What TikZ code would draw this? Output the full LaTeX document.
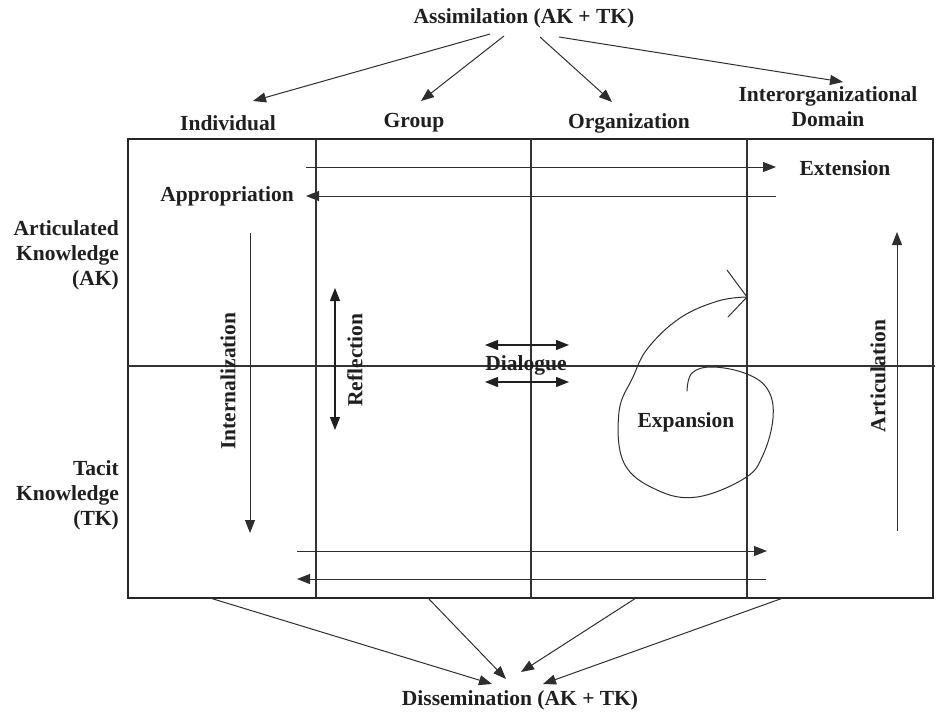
\documentclass[tikz,border=0pt]{standalone}
\usepackage{fontspec}
\setmainfont{Liberation Serif}
\usetikzlibrary{arrows.meta}
\begin{document}
\begin{tikzpicture}[x=1pt,y=-1pt,
  lbl/.style={font=\fontsize{21.5}{25}\selectfont\bfseries, text=black!88, inner sep=0pt, align=center},
  frame/.style={draw=black!85, line width=1.3pt},
  gridline/.style={draw=black!80, line width=1.1pt},
  arr/.style={draw=black!82, line width=1pt, -{Triangle[length=13pt,width=10pt]}},
  darr/.style={draw=black!88, line width=1.1pt, {Triangle[length=13pt,width=10pt]}-{Triangle[length=13pt,width=10pt]}},
  hand/.style={draw=black!82, line width=1pt, line cap=round, line join=round}]
\useasboundingbox (0,0) rectangle (940,715);

% ---- frame and grid ----
\draw[frame] (128,139) rectangle (933,598);
\draw[gridline] (316,139) -- (316,598);
\draw[gridline] (531,139) -- (531,598);
\draw[gridline] (747,139) -- (747,598);
\draw[gridline] (128,366) -- (935,366);

% ---- labels ----
\node[lbl] (assim) at (524,18) {Assimilation (AK + TK)};
\node[lbl] (indiv) at (228,123) {Individual};
\node[lbl] (group) at (414,123) {Group};
\node[lbl] (org) at (629,123) {Organization};
\node[lbl] (inter) at (828,107) {Interorganizational\\Domain};
\node[lbl] (ext) at (845,168) {Extension};
\node[lbl] (approp) at (227,196) {Appropriation};
\node[lbl, align=right, anchor=east] (ak) at (119,255) {Articulated\\Knowledge\\(AK)};
\node[lbl, align=right, anchor=east] (tk) at (119,495) {Tacit\\Knowledge\\(TK)};
\node[lbl, rotate=90] (intern) at (228,381) {Internalization};
\node[lbl, rotate=90] (refl) at (355,360) {Reflection};
\node[lbl] (dial) at (526,365) {Dialogue};
\node[lbl] (expan) at (686,422) {Expansion};
\node[lbl, rotate=90] (artic) at (878,376) {Articulation};
\node[lbl] (dissem) at (520,700) {Dissemination (AK + TK)};

% ---- assimilation arrows ----
\coordinate (s1) at (490,34);  \coordinate (e1) at (253,101);
\coordinate (s2) at (504,36);  \coordinate (e2) at (421,101);
\coordinate (s3) at (540,37);  \coordinate (e3) at (612,102);
\coordinate (s4) at (559,37);  \coordinate (e4) at (843,82);
\draw[arr] (s1) -- (e1);
\draw[arr] (s2) -- (e2);
\draw[arr] (s3) -- (e3);
\draw[arr] (s4) -- (e4);

% ---- dissemination arrows ----
\coordinate (b1) at (210,598);  \coordinate (d1) at (492,684);
\coordinate (b2) at (428,598);  \coordinate (d2) at (506,679);
\coordinate (b3) at (636,598);  \coordinate (d3) at (521,672);
\coordinate (b4) at (783,598);  \coordinate (d4) at (543,684);
\draw[arr] (b1) -- (d1);
\draw[arr] (b2) -- (d2);
\draw[arr] (b3) -- (d3);
\draw[arr] (b4) -- (d4);

% ---- horizontal flows ----
\coordinate (t1) at (306,167); \coordinate (t2) at (776,167);
\coordinate (t3) at (776,196); \coordinate (t4) at (306,196);
\draw[arr] (t1) -- (t2);
\draw[arr] (t3) -- (t4);
\coordinate (u1) at (297,551); \coordinate (u2) at (767,551);
\coordinate (u3) at (766,579); \coordinate (u4) at (297,579);
\draw[arr] (u1) -- (u2);
\draw[arr] (u3) -- (u4);

% ---- vertical flows ----
\coordinate (i1) at (250,233); \coordinate (i2) at (250,533);
\draw[arr] (i1) -- (i2);
\coordinate (r1) at (335,288); \coordinate (r2) at (335,430);
\draw[darr] (r1) -- (r2);
\coordinate (c1) at (897,531); \coordinate (c2) at (897,232);
\draw[arr] (c1) -- (c2);

% ---- dialogue ----
\coordinate (g1) at (485,345); \coordinate (g2) at (569,345);
\coordinate (g3) at (485,382); \coordinate (g4) at (569,382);
\draw[darr] (g1) -- (g2);
\draw[darr] (g3) -- (g4);

% ---- expansion spiral ----
\coordinate (sptip) at (747,297);
\draw[hand] plot[smooth, tension=0.65] coordinates {(687,391) (692,373) (713,367) (747,374) (768,390) (773,418) (763,455) (745,478) (697,497) (657,490) (624,463) (619,412) (633,377) (648,348) (680,318) (718,301) (747,297)};
\draw[hand] (727,270) -- (sptip) -- (728,317);

\end{tikzpicture}
\end{document}
